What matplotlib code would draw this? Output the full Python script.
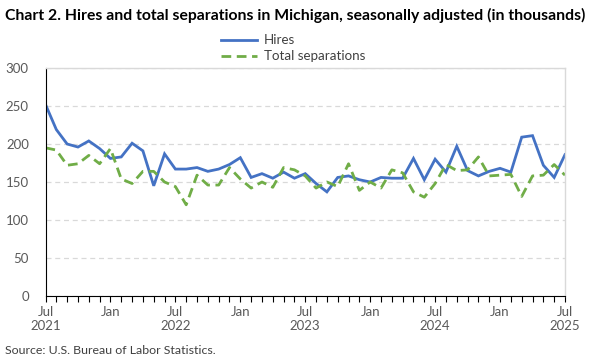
import matplotlib
matplotlib.use("Agg")
import matplotlib.pyplot as plt
from matplotlib.ticker import FixedLocator, MultipleLocator

months = list(range(49))  # Jul 2021 .. Jul 2025
hires = [252, 219, 200, 196, 204, 194, 181, 183, 201, 191, 145, 187,
         167, 167, 169, 164, 167, 173, 182, 156, 161, 155, 163, 155,
         161, 148, 137, 156, 158, 153, 150, 156, 155, 155, 181, 153,
         180, 163, 197, 165, 158, 164, 168, 163, 209, 211, 172, 156,
         186]
separations = [195, 192, 172, 174, 185, 174, 194, 154, 148, 164, 164, 150,
               144, 120, 159, 146, 146, 169, 154, 142, 150, 143, 169, 166,
               158, 142, 150, 144, 174, 139, 150, 142, 166, 162, 137, 130,
               148, 173, 165, 166, 183, 158, 159, 160, 131, 158, 159, 173,
               159]
tick_pos = [0, 6, 12, 18, 24, 30, 36, 42, 48]
tick_labels = ["Jul\n2021", "Jan", "Jul\n2022", "Jan", "Jul\n2023", "Jan",
               "Jul\n2024", "Jan", "Jul\n2025"]
y_ticks = [0, 50, 100, 150, 200, 250, 300]

plt.rcParams['font.family'] = ['Lato', 'DejaVu Sans']
fig = plt.figure(figsize=(6, 3.6), dpi=100)
ax = fig.add_axes([45.5/600, 1-296/360, (565-45.5)/600, (296-68)/360])

blue = "#4472C4"
green = "#70AD47"
ax.plot(months, hires, color=blue, lw=2.0, label="Hires", solid_joinstyle="miter")
ax.plot(months, separations, color=green, lw=2.0, ls=(0, (3.5, 2)), label="Total separations")

ax.set_xlim(0, 48)
ax.set_ylim(0, 300)
ax.yaxis.set_major_locator(FixedLocator(y_ticks))
ax.set_yticklabels([str(v) for v in y_ticks])
ax.xaxis.set_major_locator(FixedLocator(tick_pos))
ax.set_xticklabels(tick_labels)
ax.xaxis.set_minor_locator(MultipleLocator(1))

ax.grid(axis='y', color="#D9D9D9", ls=(0, (4, 3)), lw=0.9)
ax.set_axisbelow(True)
for s in ['top', 'right']:
    ax.spines[s].set_color("#D9D9D9")
    ax.spines[s].set_linewidth(1.0)
ax.spines['left'].set_color("black")
ax.spines['bottom'].set_color("black")
ax.tick_params(axis='y', length=0, labelsize=9.5, labelcolor="#595959", pad=12)
ax.tick_params(axis='x', which='both', direction='out', length=4, width=0.8,
               color="black", labelsize=9.5, labelcolor="#595959", pad=3)

fig.text(5/600, 1-15/360, "Chart 2. Hires and total separations in Michigan, seasonally adjusted (in thousands)",
         fontsize=11.3, fontweight='bold', va='center', ha='left', color="black")
fig.text(5/600, 1-351/360, "Source: U.S. Bureau of Labor Statistics.", fontsize=8.9,
         va='center', ha='left', color="#404040")

leg = fig.legend(loc='center', bbox_to_anchor=(293/600, 1-48.5/360), ncol=1, frameon=False,
                 fontsize=9.6, handlelength=2.7, handletextpad=0.5, labelspacing=0.3,
                 borderpad=0)
for t in leg.get_texts():
    t.set_color("#404040")

fig.savefig("out.png", dpi=100)
